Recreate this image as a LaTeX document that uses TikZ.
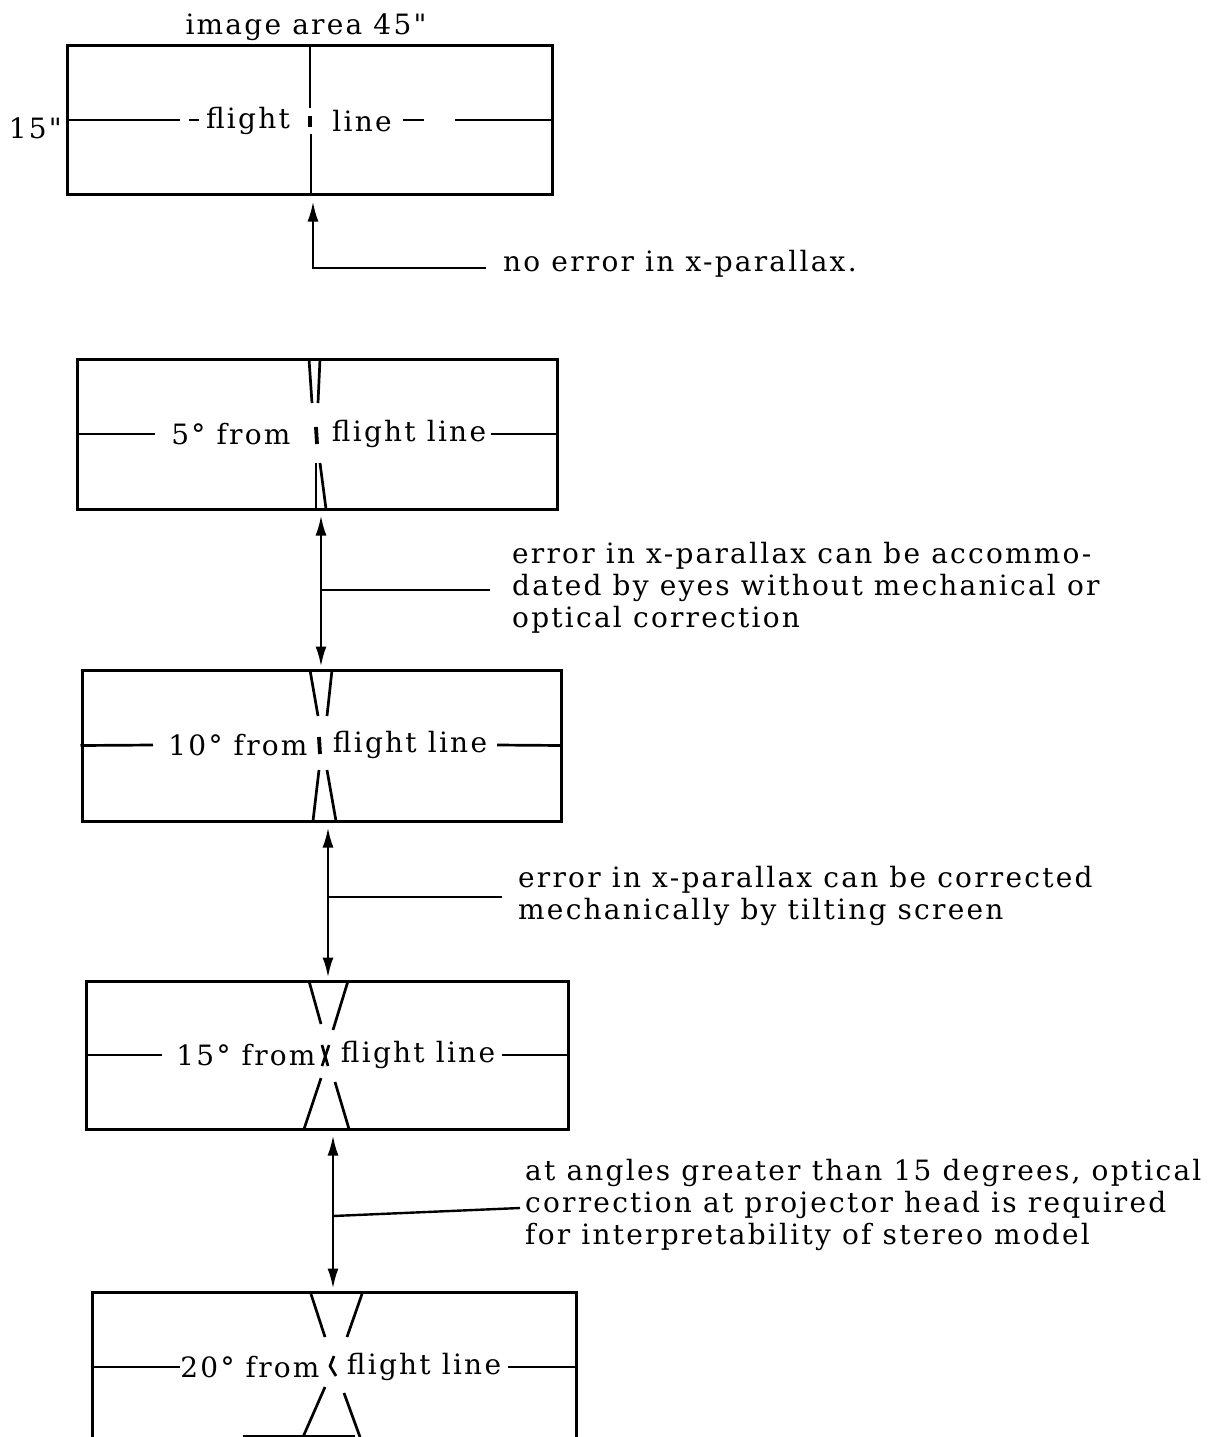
\documentclass[tikz,border=0pt]{standalone}
\usepackage{fontspec}
\setmainfont[LetterSpace=8,Ligatures=TeXOff]{DejaVu Serif}
\usetikzlibrary{arrows.meta}
\begin{document}
\begin{tikzpicture}[x=1pt,y=-1pt,
  box/.style={draw, line width=3pt, inner sep=0pt},
  ln/.style={line width=2.7pt},
  tick/.style={line width=3.8pt},
  conn/.style={line width=2.4pt},
  txt/.style={font=\fontsize{28}{32}\selectfont, inner sep=0pt, align=left},
  >={Latex[length=20pt,width=11pt]}]
\useasboundingbox (0,0) rectangle (1211,1437);

% ---------- box 1 ----------
\node[txt] (title) at (306,27) {image area 45"};
\node[box, minimum width=485pt, minimum height=148pt] (b1) at (309.5,120) {};
\node[txt, anchor=east] (h1) at (62,128) {15"};
\node[txt] (f1) at (248,121) {flight};
\node[txt] (l1) at (362,121) {line};
\draw[ln] (b1.west) -- (180,120);
\draw[ln] (189,120) -- (199,120);
\draw[ln] (403,120) -- (424,120);
\draw[ln] (455,120) -- (b1.east);
\draw[ln] (310,46) -- (310,108);
\draw[tick] (310,116) -- (310,127);
\draw[ln] (311,134) -- (311,194);
\node[txt, anchor=west] (t0) at (503,264) {no error in x-parallax.};
\coordinate (a0) at (313,268);
\draw[conn,->] ([xshift=-17pt]t0.west |- a0) -- (a0) -- ([yshift=-6pt]b1.south -| a0);

% ---------- box 2 ----------
\node[box, minimum width=480pt, minimum height=150pt] (b2) at (317,434) {};
\node[txt] (d2) at (231,434) {5° from};
\node[txt] (f2) at (409,434) {flight line};
\draw[ln] (b2.west) -- (155,434);
\draw[ln] (491,434) -- (b2.east);
\draw[tick] (316,427) -- (317,444);
\draw[ln] (309,359) -- (312,403);
\draw[ln] (320,359) -- (318,403);
\draw[ln] (316,463) -- (316,509);
\draw[ln] (320,463) -- (326,509);

% ---------- box 3 ----------
\node[box, minimum width=479pt, minimum height=151pt] (b3) at (321.5,745.5) {};
\node[txt] (d3) at (238,745) {10° from};
\node[txt] (f3) at (410,745) {flight line};
\draw[ln] (b3.west) -- (153,745);
\draw[ln] (497,745) -- (b3.east);
\draw[tick] (319,737) -- (320,754);
\draw[ln] (310,670) -- (318,716);
\draw[ln] (332,670) -- (327,716);
\draw[ln] (319,770) -- (313,821);
\draw[ln] (327,770) -- (336,821);

% ---------- box 4 ----------
\node[box, minimum width=482pt, minimum height=148pt] (b4) at (327,1055) {};
\node[txt] (d4) at (246,1055) {15° from};
\node[txt] (f4) at (418,1055) {flight line};
\draw[ln] (b4.west) -- (162,1055);
\draw[ln] (502,1055) -- (b4.east);
\draw[ln] (322,1045) -- (328,1066);
\draw[ln] (329,1045) -- (322,1066);
\draw[ln] (309,981) -- (321,1024);
\draw[ln] (348,981) -- (333,1030);
\draw[ln] (321,1078) -- (304,1129);
\draw[ln] (335,1082) -- (349,1129);

% ---------- box 5 ----------
\node[box, minimum width=484pt, minimum height=150pt] (b5) at (334,1367) {};
\node[txt] (d5) at (250,1367) {20° from};
\node[txt] (f5) at (424,1367) {flight line};
\draw[ln] (b5.west) -- (180,1367);
\draw[ln] (508,1367) -- (b5.east);
\draw[ln] (334,1356) -- (330,1366) -- (336,1376);
\draw[ln] (311,1294) -- (325,1337);
\draw[ln] (362,1294) -- (347,1337);
\draw[ln] (325,1387) -- (303,1437);
\draw[ln] (344,1393) -- (360,1437);
\draw[ln] (243,1436) -- (355,1436);

% ---------- connectors ----------
\node[txt, anchor=west] (t1) at (512,588) {error in x-parallax can be accommo-\\dated by eyes without mechanical or\\optical correction};
\coordinate (a1) at (321,590);
\draw[conn,<->] ([yshift=-5pt]b2.south -| a1) -- ([yshift=2pt]b3.north -| a1);
\draw[conn] (a1) -- ([xshift=-22pt]t1.west |- a1);

\node[txt, anchor=west] (t2) at (518,896) {error in x-parallax can be corrected\\mechanically by tilting screen};
\coordinate (a2) at (328,897);
\draw[conn,<->] ([yshift=-5pt]b3.south -| a2) -- ([yshift=2pt]b4.north -| a2);
\draw[conn] (a2) -- ([xshift=-16pt]t2.west |- a2);

\node[txt, anchor=west] (t3) at (525,1205) {at angles greater than 15 degrees, optical\\correction at projector head is required\\for interpretability of stereo model};
\coordinate (a3) at (333,1216);
\draw[conn,<->] ([yshift=-5pt]b4.south -| a3) -- ([yshift=2pt]b5.north -| a3);
\draw[conn] (a3) -- ([xshift=-5pt,yshift=-3pt]t3.west);
\end{tikzpicture}
\end{document}
